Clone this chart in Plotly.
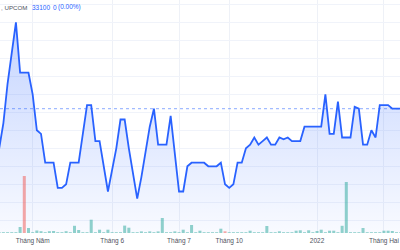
import plotly.graph_objects as go

# ---- data ----
price = [32000, 32700, 33800, 34600, 35500, 34100, 34100, 34100, 33500, 32500,
         32400, 31600, 31600, 31600, 30900, 30900, 31000, 31600, 31600, 31600,
         32400, 33200, 33200, 32200, 32200, 31500, 30800, 31400, 32000, 32800,
         32800, 32000, 31300, 30600, 31200, 31900, 32600, 33100, 32100, 32100,
         32100, 32900, 31900, 30800, 30800, 31500, 31600, 31600, 31600, 31600,
         31500, 31500, 31500, 31600, 31000, 30900, 31000, 31600, 31600, 32000,
         32100, 32300, 32100, 32200, 32300, 32100, 32100, 32300, 32250, 32300,
         32200, 32200, 32200, 32600, 32600, 32600, 32600, 32600, 33500, 32400,
         32400, 33300, 32300, 32300, 32300, 33150, 33100, 32100, 32100, 32500,
         32300, 33200, 33200, 33200, 33100, 33100, 33100, 33100]

base_vol = 160
vol_spikes = {5: 1200, 6: 11400, 7: 1000, 9: 500, 10: 360, 12: 360, 13: 400,
              16: 360, 18: 1440, 19: 600, 22: 2660, 24: 660, 26: 660, 30: 1480,
              31: 1060, 34: 320, 36: 320, 38: 320, 39: 3000, 42: 320, 44: 660,
              46: 1600, 48: 460, 53: 860, 54: 340, 60: 460, 64: 1400, 67: 340,
              71: 460, 72: 540, 74: 540, 76: 400, 77: 660, 79: 460, 80: 460,
              82: 1440, 83: 10200, 87: 1000, 92: 460, 93: 460, 94: 400}
red_days = [6, 54]

tick_idx = [8, 27, 43, 55, 76, 92]
tick_text = ["Tháng Năm", "Tháng 6", "Tháng 7", "Tháng 10", "2022", "Tháng Hai"]

last_price = 33100
header_exchange = ", UPCOM"
header_last = "33100"
header_change = "0"
header_pct = "(0.00%)"

# ---- build ----
n = len(price)
idx = list(range(n))
volume = [vol_spikes.get(i, base_vol) for i in idx]
bar_colors = ["rgba(239,83,80,0.5)" if i in red_days else "rgba(38,166,154,0.5)" for i in idx]

ymin, ymax = 29647, 36120
W, H = 400, 250

fig = go.Figure()
fig.add_trace(go.Scatter(
    x=idx, y=price, mode="lines",
    line=dict(color="#2962FF", width=1.8),
    fill="tozeroy",
    fillgradient=dict(type="vertical", start=ymin, stop=ymax,
                      colorscale=[[0, "rgba(41,98,255,0.03)"], [1, "rgba(41,98,255,0.30)"]]),
    hoverinfo="skip", showlegend=False))
fig.add_trace(go.Bar(
    x=idx, y=volume, marker=dict(color=bar_colors, line=dict(width=0)),
    yaxis="y2", hoverinfo="skip", showlegend=False))

fig.add_shape(type="line", xref="paper", x0=0, x1=1, yref="y", y0=last_price, y1=last_price,
              line=dict(color="rgba(41,98,255,0.55)", width=1, dash="dot"))

for txt, px, col, size in [(header_exchange, 0.0, "#50535e", 6.2),
                           (header_last, 31, "#2962FF", 6.5),
                           (header_change, 51.5, "#2962FF", 6.5),
                           (header_pct, 57, "#2962FF", 6.5)]:
    fig.add_annotation(xref="paper", yref="paper", x=px / W, y=1.0, xanchor="left",
                       yanchor="middle", yshift=-7, text=txt, showarrow=False,
                       borderpad=0,
                       font=dict(color=col, family="Liberation Sans", size=size))

fig.update_layout(
    width=W, height=H,
    margin=dict(l=0, r=0, t=0, b=17),
    paper_bgcolor="white", plot_bgcolor="white",
    bargap=0.28,
    xaxis=dict(range=[0.19, 95.84], tickmode="array", tickvals=tick_idx, ticktext=tick_text,
               showgrid=True, gridcolor="#eef1f7", gridwidth=1, zeroline=False,
               showline=False, ticks="", ticklen=0, ticklabelstandoff=2,
               tickfont=dict(family="Liberation Sans", size=6.5, color="#50535e")),
    yaxis=dict(range=[ymin, ymax], dtick=500, tick0=0, showgrid=True, gridcolor="#f0f3fa",
               zeroline=False, showticklabels=False, ticks=""),
    yaxis2=dict(range=[0, 46600], overlaying="y", showgrid=False, zeroline=False,
                showticklabels=False, ticks=""),
)

fig.write_html("out.html", config={"displayModeBar": False})
